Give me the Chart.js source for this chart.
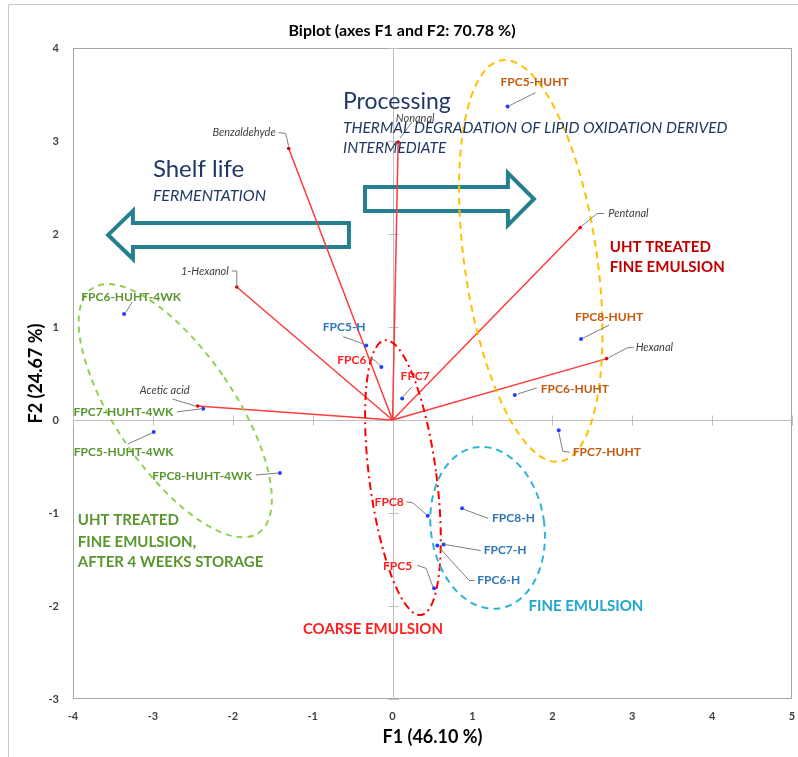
<!DOCTYPE html>
<html>
<head>
<meta charset="utf-8">
<script src="https://cdn.jsdelivr.net/npm/chart.js@4.4.1/dist/chart.umd.min.js"></script>
<style>
  body { margin: 0; background: #fff; }
  #wrap { width: 798px; height: 757px; }
</style>
</head>
<body>
<div id="wrap"><canvas id="biplot"></canvas></div>
<script>
/* ---------- DATA ---------- */
const xTicks = [-4, -3, -2, -1, 0, 1, 2, 3, 4, 5];
const yTicks = [-3, -2, -1, 0, 1, 2, 3, 4];

// variables (loadings)
const varNames = ["Benzaldehyde", "Nonanal", "Pentanal", "1-Hexanol", "Acetic acid", "Hexanal"];
const varF1 = [-1.30, 0.07, 2.35, -1.95, -2.44, 2.68];
const varF2 = [2.92, 2.99, 2.07, 1.43, 0.15, 0.66];

// observations (scores)
const obsNames = ["FPC5-HUHT", "FPC6-HUHT", "FPC7-HUHT", "FPC8-HUHT",
  "FPC5-HUHT-4WK", "FPC6-HUHT-4WK", "FPC7-HUHT-4WK", "FPC8-HUHT-4WK",
  "FPC5-H", "FPC6-H", "FPC7-H", "FPC8-H",
  "FPC5", "FPC6", "FPC7", "FPC8"];
const obsF1 = [1.44, 1.53, 2.08, 2.36, -2.99, -3.36, -2.37, -1.41, -0.33, 0.56, 0.64, 0.87, 0.52, -0.14, 0.12, 0.44];
const obsF2 = [3.37, 0.27, -0.11, 0.87, -0.13, 1.14, 0.12, -0.57, 0.80, -1.35, -1.34, -0.95, -1.81, 0.57, 0.23, -1.03];
const obsGroup = ["HUHT", "HUHT", "HUHT", "HUHT", "WK", "WK", "WK", "WK",
  "H", "H", "H", "H", "C", "C", "C", "C"];

/* ---------- LAYOUT / STYLE ---------- */
const groupColor = { HUHT: "#c55a11", WK: "#5a962e", H: "#2e75b6", C: "#ff2020" };
const FONT = "Lato, 'Open Sans', sans-serif";

// label offset from the point (px) and leader polyline (px offsets)
const varLabelPos = [[-13, -16, "right"], [17, -23, "center"], [28, -14, "left"],
  [-8, -16, "right"], [-33, -16, "center"], [29, -11, "left"]];
const varLeader = [[[0, -2], [-3, -15], [-10, -16]], [[2, -4], [14, -20]], [[1, -1], [17, -14], [24, -14]],
  [[0, -2], [0, -16], [-5, -16]], [[-2, 0], [-25, -7]], [[2, -1], [21, -11], [27, -11]]];

const obsLabelPos = [[27, -24, "center"], [26, -6, "left"], [14, 22, "left"], [28, -22, "center"],
  [-30, 20, "center"], [7, -17, "center"], [-30, 3, "right"], [-28, 3, "right"],
  [-22, -18, "center"], [40, 35, "left"], [40, 6, "left"], [30, 10, "left"],
  [-22, -22, "right"], [-15, -7, "right"], [13, -22, "center"], [-24, -14, "right"]];
const obsLeader = [[[2, -1], [28, -14]], [[3, -1], [22, -7]], [[0, 2], [4, 21], [11, 22]], [[2, -1], [28, -14]],
  [[-2, 1], [-26, 12]], [[2, -2], [8, -12]], [[-2, 0], [-26, 3]], [[-2, 0], [-24, 2]],
  [[-1, -1], [-23, -9]], [[2, 2], [32, 35], [37, 35]], [[2, 0], [37, 6]], [[2, 1], [26, 10]],
  [[-1, -1], [-8, -20], [-17, -23]], [[-1, -1], [-7, -7], [-12, -8]], [[1, -2], [10, -12]], [[-1, -1], [-15, -13], [-21, -14]]];

// group ellipses, in data units
const ellipses = [
  { cx: 1.73, cy: 1.71, rx: 0.83, ry: 2.18, rot: -8.2, color: "#ffc000", dash: [7, 5] },
  { cx: -2.72, cy: 0.10, rx: 0.74, ry: 1.59, rot: -34.3, color: "#92d050", dash: [6, 5] },
  { cx: 0.13, cy: -0.62, rx: 0.42, ry: 1.49, rot: -7.5, color: "#ff0000", dash: [8, 4, 2, 4] },
  { cx: 1.19, cy: -1.16, rx: 0.71, ry: 0.875, rot: -8.2, color: "#2fb4d6", dash: [7, 5] }
];

// block arrows: tail, head base, tip x; centre y; half heights (data units)
const arrows = [
  { tail: -0.546, base: -3.25, tip: -3.56, cy: 1.99, body: 0.129, head: 0.258 },
  { tail: -0.345, base: 1.444, tip: 1.77, cy: 2.376, body: 0.129, head: 0.28 }
];

const notes = [
  { t: "Processing", x: -0.62, y: 3.42, font: "23px " + FONT, c: "#1f3864", a: "left" },
  { t: "THERMAL DEGRADATION OF LIPID OXIDATION DERIVED", x: -0.62, y: 3.14, font: "italic 15.5px " + FONT, c: "#1f3864", a: "left" },
  { t: "INTERMEDIATE", x: -0.62, y: 2.92, font: "italic 15.5px " + FONT, c: "#1f3864", a: "left" },
  { t: "Shelf life", x: -3.00, y: 2.70, font: "24px " + FONT, c: "#1f3864", a: "left" },
  { t: "FERMENTATION", x: -3.00, y: 2.41, font: "italic 16px " + FONT, c: "#1f3864", a: "left" },
  { t: "UHT TREATED", x: 2.72, y: 1.86, font: "bold 15px " + FONT, c: "#c00000", a: "left" },
  { t: "FINE EMULSION", x: 2.72, y: 1.645, font: "bold 15px " + FONT, c: "#c00000", a: "left" },
  { t: "UHT TREATED", x: -3.94, y: -1.08, font: "bold 15px " + FONT, c: "#5a962e", a: "left" },
  { t: "FINE EMULSION,", x: -3.94, y: -1.31, font: "bold 15px " + FONT, c: "#5a962e", a: "left" },
  { t: "AFTER 4 WEEKS STORAGE", x: -3.94, y: -1.53, font: "bold 15px " + FONT, c: "#5a962e", a: "left" },
  { t: "COARSE EMULSION", x: -0.245, y: -2.25, font: "bold 15px " + FONT, c: "#ff1f1f", a: "center" },
  { t: "FINE EMULSION", x: 2.42, y: -2.0, font: "bold 15px " + FONT, c: "#1fa8cc", a: "center" }
];

/* ---------- HELPERS ---------- */
function text(ctx, s, px, py, font, color, align) {
  ctx.font = font;
  ctx.fillStyle = color;
  ctx.textAlign = align;
  ctx.textBaseline = "middle";
  ctx.fillText(s, px, py);
}

function leader(ctx, px, py, pts) {
  ctx.beginPath();
  pts.forEach((p, i) => {
    if (i === 0) ctx.moveTo(px + p[0], py + p[1]);
    else ctx.lineTo(px + p[0], py + p[1]);
  });
  ctx.stroke();
}

const overlay = {
  id: "overlay",
  beforeDatasetsDraw(chart) {
    const { ctx, chartArea: a, scales: { x, y } } = chart;
    ctx.save();
    // outer figure frame
    ctx.strokeStyle = "#c8c8c8";
    ctx.lineWidth = 1;
    ctx.beginPath();
    ctx.moveTo(8.5, chart.height);
    ctx.lineTo(8.5, 4.5);
    ctx.lineTo(chart.width, 4.5);
    ctx.stroke();
    // plot box
    ctx.strokeStyle = "#a6a6a6";
    ctx.strokeRect(a.left + 0.5, a.top + 0.5, a.width - 1, a.height - 1);
    // zero axes with tick marks
    const x0 = Math.round(x.getPixelForValue(0)) + 0.5;
    const y0 = Math.round(y.getPixelForValue(0)) + 0.5;
    ctx.strokeStyle = "#bfbfbf";
    ctx.beginPath();
    ctx.moveTo(x0, a.top); ctx.lineTo(x0, a.bottom);
    ctx.moveTo(a.left, y0); ctx.lineTo(a.right, y0);
    xTicks.forEach(v => {
      const p = Math.round(x.getPixelForValue(v)) + 0.5;
      ctx.moveTo(p, y0 - 5); ctx.lineTo(p, y0 + 5);
    });
    yTicks.forEach(v => {
      const p = Math.round(y.getPixelForValue(v)) + 0.5;
      ctx.moveTo(x0 - 5, p); ctx.lineTo(x0 + 5, p);
    });
    ctx.stroke();
    // block arrows
    ctx.strokeStyle = "#24808f";
    ctx.lineWidth = 4;
    ctx.lineJoin = "miter";
    arrows.forEach(ar => {
      const cy = y.getPixelForValue(ar.cy);
      const bh = Math.abs(y.getPixelForValue(ar.cy + ar.body) - cy);
      const hh = Math.abs(y.getPixelForValue(ar.cy + ar.head) - cy);
      const t = x.getPixelForValue(ar.tail), b = x.getPixelForValue(ar.base), p = x.getPixelForValue(ar.tip);
      ctx.beginPath();
      ctx.moveTo(t, cy - bh);
      ctx.lineTo(b, cy - bh);
      ctx.lineTo(b, cy - hh);
      ctx.lineTo(p, cy);
      ctx.lineTo(b, cy + hh);
      ctx.lineTo(b, cy + bh);
      ctx.lineTo(t, cy + bh);
      ctx.closePath();
      ctx.stroke();
    });
    ctx.restore();
  },
  afterDatasetsDraw(chart) {
    const { ctx, scales: { x, y } } = chart;
    ctx.save();
    // ellipses
    ctx.lineWidth = 2;
    ellipses.forEach(e => {
      const cx = x.getPixelForValue(e.cx), cy = y.getPixelForValue(e.cy);
      const rx = Math.abs(x.getPixelForValue(e.cx + e.rx) - cx);
      const ry = Math.abs(y.getPixelForValue(e.cy + e.ry) - cy);
      ctx.strokeStyle = e.color;
      ctx.setLineDash(e.dash);
      ctx.beginPath();
      ctx.ellipse(cx, cy, rx, ry, e.rot * Math.PI / 180, 0, 2 * Math.PI);
      ctx.stroke();
    });
    ctx.setLineDash([]);
    // leaders and labels
    ctx.strokeStyle = "#7f7f7f";
    ctx.lineWidth = 1;
    varNames.forEach((n, i) => {
      const px = x.getPixelForValue(varF1[i]), py = y.getPixelForValue(varF2[i]);
      leader(ctx, px, py, varLeader[i]);
      const l = varLabelPos[i];
      text(ctx, n, px + l[0], py + l[1], "italic 11px " + FONT, "#404040", l[2]);
    });
    obsNames.forEach((n, i) => {
      const px = x.getPixelForValue(obsF1[i]), py = y.getPixelForValue(obsF2[i]);
      leader(ctx, px, py, obsLeader[i]);
      const l = obsLabelPos[i];
      text(ctx, n, px + l[0], py + l[1], "bold 12px " + FONT, groupColor[obsGroup[i]], l[2]);
    });
    // annotations
    notes.forEach(n => {
      text(ctx, n.t, x.getPixelForValue(n.x), y.getPixelForValue(n.y), n.font, n.c, n.a);
    });
    // title
    text(ctx, "Biplot (axes F1 and F2: 70.78 %)", chart.width / 2 + 3, 31, "bold 16px " + FONT, "#000", "center");
    ctx.restore();
  }
};

/* ---------- CHART ---------- */
const datasets = varNames.map((n, i) => ({
  type: "line",
  label: n,
  data: [{ x: 0, y: 0 }, { x: varF1[i], y: varF2[i] }],
  borderColor: "#ff3b3b",
  borderWidth: 1.5,
  pointRadius: [0, 1.8],
  pointBackgroundColor: "#e00000",
  pointBorderWidth: 0,
  order: 2
}));
datasets.push({
  type: "scatter",
  label: "Observations",
  data: obsNames.map((n, i) => ({ x: obsF1[i], y: obsF2[i] })),
  backgroundColor: "#1f3fff",
  pointRadius: 2,
  pointBorderWidth: 0,
  order: 1
});

new Chart(document.getElementById("biplot"), {
  type: "scatter",
  data: { datasets },
  plugins: [overlay],
  options: {
    responsive: true,
    maintainAspectRatio: false,
    animation: false,
    layout: { padding: { top: 48, left: 0, right: 6, bottom: 0 } },
    plugins: { legend: { display: false }, tooltip: { enabled: false } },
    scales: {
      x: {
        type: "linear", min: -4, max: 5,
        grid: { display: false, drawTicks: false },
        border: { display: false },
        afterBuildTicks: s => { s.ticks = xTicks.map(v => ({ value: v })); },
        afterFit: s => { s.height = 58; s.paddingLeft = 0; s.paddingRight = 0; },
        ticks: { padding: 11, color: "#404040", font: { family: FONT, size: 11, weight: "bold" } },
        title: { display: true, text: "F1 (46.10 %)", color: "#000", padding: { top: 0, bottom: 9 },
          font: { family: FONT, size: 18, weight: "bold" } }
      },
      y: {
        type: "linear", min: -3, max: 4,
        grid: { display: false, drawTicks: false },
        border: { display: false },
        afterBuildTicks: s => { s.ticks = yTicks.map(v => ({ value: v })); },
        afterFit: s => { s.width = 73; s.paddingTop = 0; s.paddingBottom = 0; },
        ticks: { padding: 14, color: "#404040", font: { family: FONT, size: 11, weight: "bold" } },
        title: { display: true, text: "F2 (24.67 %)", color: "#000", padding: { top: 25, bottom: 0 },
          font: { family: FONT, size: 18, weight: "bold" } }
      }
    }
  }
});
</script>
</body>
</html>
